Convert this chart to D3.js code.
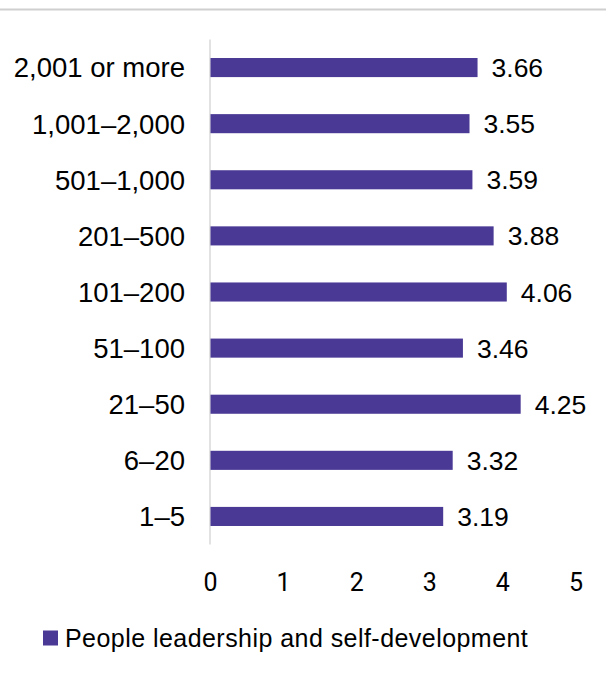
<!DOCTYPE html>
<html><head><meta charset="utf-8">
<script src="https://cdn.jsdelivr.net/npm/d3@7"></script>
<style>body{margin:0;background:#fff}svg{display:block}</style>
</head><body>
<script>
const categories = ["2,001 or more","1,001–2,000","501–1,000","201–500","101–200","51–100","21–50","6–20","1–5"];
const values = [3.66,3.55,3.59,3.88,4.06,3.46,4.25,3.32,3.19];
const tickValues = [0,1,2,3,4,5];
const seriesName = "People leadership and self-development";

const W = 606, H = 673;
const svg = d3.select("body").append("svg").attr("width", W).attr("height", H);
const font = "'Liberation Sans', Arial, sans-serif";
const barColor = "#4a3995";

svg.append("line").attr("x1",0).attr("x2",W).attr("y1",9.5).attr("y2",9.5)
  .attr("stroke","#cfcfcf").attr("stroke-width",2);

const x = d3.scaleLinear().domain([0,5]).range([210, 575.5]);
const y = d3.scaleBand().domain(categories).range([39.5, 544.5]).paddingInner(0.66).paddingOuter(0.33);

// axis line
svg.append("line").attr("x1",x(0)).attr("x2",x(0)).attr("y1",39.5).attr("y2",544.5)
  .attr("stroke","#d9d9d9").attr("stroke-width",1.5);

svg.selectAll("rect.bar").data(values).join("rect").attr("class","bar")
  .attr("x", x(0)+0.5).attr("y",(d,i)=>y(categories[i]))
  .attr("width", d=>x(d)-x(0)-0.5).attr("height", y.bandwidth())
  .attr("fill", barColor);

svg.selectAll("text.val").data(values).join("text").attr("class","val")
  .attr("x", d=>x(d)+14).attr("y",(d,i)=>y(categories[i])+y.bandwidth()/2)
  .attr("dy","0.36em").attr("font-family",font).attr("font-size",26.5).attr("fill","#000")
  .text(d=>d.toFixed(2));

svg.selectAll("text.cat").data(categories).join("text").attr("class","cat")
  .attr("x", 185).attr("y", d=>y(d)+y.bandwidth()/2)
  .attr("dy","0.36em").attr("text-anchor","end").attr("font-family",font).attr("font-size",27.5).attr("fill","#000")
  .text(d=>d);

const ax = svg.append("g").attr("transform","translate(0,573)")
  .call(d3.axisBottom(x).tickValues(tickValues).tickFormat(d3.format("d")).tickSize(0).tickPadding(0));
ax.select(".domain").remove();
ax.selectAll("text").attr("font-family","Roboto, sans-serif").attr("font-size",25).attr("fill","#000")
  .attr("dy","0.71em");

const lg = svg.append("g");
lg.append("rect").attr("x",43).attr("y",630.5).attr("width",15).attr("height",15).attr("fill",barColor);
lg.append("text").attr("x",65).attr("y",638).attr("dy","0.36em").attr("font-family",font)
  .attr("font-size",25).attr("letter-spacing",0.45).attr("fill","#000").text(seriesName);
</script>
</body></html>
